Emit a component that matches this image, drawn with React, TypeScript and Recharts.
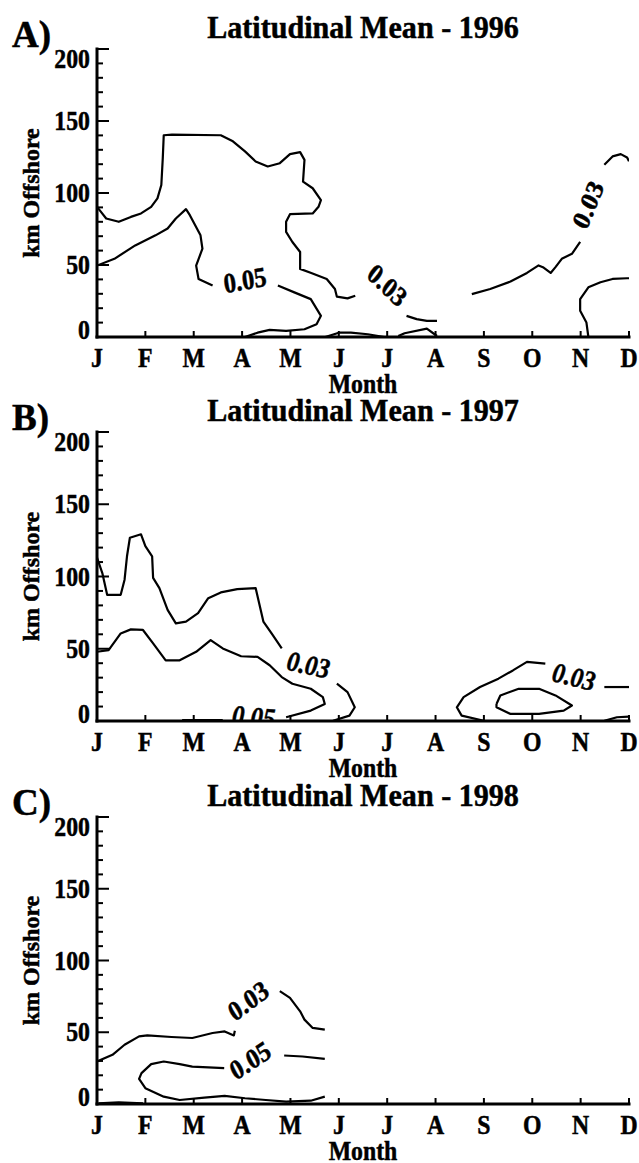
import React from 'react';
import { ComposedChart, Line, Scatter, XAxis, YAxis } from 'recharts';

// ---------- tick labels ----------
const monthLabels = ['J', 'F', 'M', 'A', 'M', 'J', 'J', 'A', 'S', 'O', 'N', 'D'];
const monthTicks = [0, 1, 2, 3, 4, 5, 6, 7, 8, 9, 10, 11];
const kmTicks = [0, 10, 20, 30, 40, 50, 60, 70, 80, 90, 100, 110, 120, 130, 140, 150, 160, 170, 180, 190, 200];

// ---------- 1996 contours [month index, km offshore] ----------
const a96_c03_west = [[0,90.4],[0.19,82.3],[0.45,80],[0.7,83.4],[0.91,85.8],[1.12,90.4],[1.25,96.3],[1.33,105.6],[1.36,124.2],[1.38,140.1],[1.55,140.6],[2.56,140.1],[2.81,135.9],[3.06,128.9],[3.28,121.9],[3.53,118.4],[3.78,120.7],[3.99,127],[4.2,128.4],[4.29,123],[4.26,107.9],[4.46,103.3],[4.63,95.1],[4.58,90.4],[4.46,85.8],[3.99,85.3],[3.91,80],[3.91,73],[4.04,66],[4.2,59],[4.2,47.3],[4.43,44.5],[4.75,40.3],[4.92,33.3],[4.96,28],[5.18,26.8],[5.34,28.7]];
const a96_c03_mid = [[6.4,14.7],[6.61,12.4],[6.82,11.2],[7.03,11.2]];
const a96_c03_east = [[7.75,29.8],[8.13,33.3],[8.55,38.5],[8.89,44.5],[9.13,49.7],[9.22,48.5],[9.38,44.5],[9.48,48.5],[9.61,54.3],[9.82,57.8],[9.99,66]];
const a96_c03_top = [[10.49,119.6],[10.66,125.4],[10.83,127],[10.96,124.7],[11,122]];
const a96_c05_west = [[0,49.6],[0.36,54.3],[0.79,63.6],[1.21,70.6],[1.46,75.3],[1.63,82.3],[1.84,88.8],[1.92,84.6],[2.14,70.6],[2.18,61.3],[2.05,49.6],[2.1,40.3],[2.39,35.7]];
const a96_c05_spring = [[3.74,35.7],[4.08,31],[4.42,26.3],[4.63,14.7],[4.54,8.9],[4.29,5.4],[3.91,4.2],[3.57,4.9],[3.32,3],[3.06,0]];
const a96_c05_jun = [[4.72,0],[5.0,3],[5.25,3],[5.6,1.9],[5.94,0]];
const a96_c05_jul = [[6.23,0.7],[6.36,2.6],[6.82,5.8],[7.03,0.7]];
const a96_c05_dec = [[10.16,0],[10.12,10],[9.99,18.2],[9.99,26.3],[10.16,34.5],[10.41,38],[10.66,40.3],[10.96,40.8],[11,40.8]];
const a96_labels = [
  { m: 3.06, km: 39.2, text: '0.05', angle: -10 },
  { m: 6.0, km: 35.7, text: '0.03', angle: 44 },
  { m: 10.16, km: 91.6, text: '0.03', angle: -68 },
];

// ---------- 1997 contours ----------
const b97_c03_west = [[0,113],[0.11,102.4],[0.21,87.3],[0.49,87.3],[0.57,97.8],[0.62,114],[0.68,126.8],[0.91,129.2],[1.0,121],[1.14,114],[1.16,99],[1.29,92],[1.46,76.9],[1.63,67.6],[1.84,68.8],[2.09,74.6],[2.3,85],[2.56,89],[2.9,91.3],[3.28,92],[3.44,68.8],[3.61,60.6],[3.82,50.2]];
const b97_c03_may = [[4.96,25.8],[5.18,20],[5.33,9.5],[5.22,3.7],[4.88,0.2]];
const b97_c05_west = [[0,47.9],[0.24,49],[0.49,60.6],[0.7,63.4],[0.95,63],[1.16,53.7],[1.42,42],[1.71,42],[2.05,47.9],[2.35,56],[2.6,50.2],[2.98,44.8],[3.32,44.4],[3.57,38.6],[3.82,30.4],[4.04,25.8],[4.42,22.3],[4.67,16.5],[4.71,11.8],[4.42,7.2],[3.91,2.6]];
const b97_c05_bottom = [[2.6,0.7],[1.76,0.7]];
const b97_c03_fall = [[8.0,0.2],[7.54,3.7],[7.44,9.5],[7.58,16.5],[7.92,23.5],[8.3,29.3],[8.6,35],[8.89,40.9],[9.27,39.7]];
const b97_c03_dec = [[10.49,23.5],[10.96,23.5],[11,23.5]];
const b97_c05_fall = [[8.26,11.8],[8.34,17.7],[8.72,22.3],[9.14,22.3],[9.48,17.7],[9.82,10.7],[9.65,7.2],[9.14,4.9],[8.55,4.9],[8.26,9.5],[8.26,11.8]];
const b97_c05_dec = [[10.49,0.2],[10.75,2.6],[11,3]];
const b97_labels = [
  { m: 4.37, km: 38.6, text: '0.03', angle: 12 },
  { m: 3.24, km: 2.6, text: '0.05', angle: 5 },
  { m: 9.86, km: 30.4, text: '0.03', angle: 14 },
];

// ---------- 1998 contours ----------
const c98_c03_west = [[0,29.6],[0.32,34.3],[0.57,41.3],[0.87,47.1],[1.04,47.8],[1.54,46.7],[1.97,46],[2.39,49.5],[2.64,50.6],[2.83,47.8],[2.85,51.1]];
const c98_c03_may = [[3.78,78.7],[3.99,74],[4.2,64.6],[4.29,58.8],[4.46,53],[4.71,51.8]];
const c98_c05_west = [[2.63,25],[1.97,26.1],[1.71,27.8],[1.38,29.6],[1.12,27.8],[0.92,21.5],[0.87,17.5],[1.0,11],[1.38,5.1],[1.71,2.8],[2.22,4.4],[2.64,5.6],[3.06,4],[3.49,2.8],[3.91,1.6],[4.42,2.3],[4.71,5.1]];
const c98_c05_may = [[3.87,33.8],[4.25,33.1],[4.71,31.5]];
const c98_bottom = [[0.03,0.5],[0.45,1.2],[0.95,0.5]];
const c98_labels = [
  { m: 3.13, km: 71.7, text: '0.03', angle: -37 },
  { m: 3.17, km: 30.1, text: '0.05', angle: -34 },
];

const FONT = '"Liberation Serif", "Times New Roman", serif';
const SX = 0.88;
const HEAVY = { stroke: '#000', strokeWidth: 0.5 };

const toPts = (arr: number[][]) => arr.map(([m, km]) => ({ m, km }));

const BottomTick = (props: any) => {
  const { x, y, payload } = props;
  return (
    <g>
      <line x1={x} y1={y} x2={x} y2={y - 6} stroke="#000" strokeWidth={2} />
      <text transform={`translate(${x},${y + 30}) scale(${SX},1)`} textAnchor="middle" fontFamily={FONT} fontWeight="bold" fontSize={27} fill="#000" {...HEAVY}>
        {monthLabels[payload.value]}
      </text>
    </g>
  );
};

const TopTick = (props: any) => {
  const { x, y } = props;
  return <line x1={x} y1={y} x2={x} y2={y + 6} stroke="#000" strokeWidth={2} />;
};

const LeftTick = (props: any) => {
  const { x, y, payload } = props;
  const v = payload.value;
  const major = v % 50 === 0;
  const len = major ? 12 : 6;
  const dy = v === 200 ? 10 : v === 0 ? -7 : 0;
  return (
    <g>
      <line x1={x} y1={y} x2={x + len} y2={y} stroke="#000" strokeWidth={2} />
      {major && (
        <text transform={`translate(${x - 7},${y + 9 + dy}) scale(${SX},1)`} textAnchor="end" fontFamily={FONT} fontWeight="bold" fontSize={27} fill="#000" {...HEAVY}>
          {v}
        </text>
      )}
    </g>
  );
};

const RightTick = (props: any) => {
  const { x, y, payload } = props;
  const len = payload.value % 50 === 0 ? 12 : 6;
  return <line x1={x} y1={y} x2={x - len} y2={y} stroke="#000" strokeWidth={2} />;
};

const makeLabelShape = (italic: boolean) => (props: any) => {
  const { cx, cy, payload } = props;
  const th = (Math.atan(SX * Math.tan((payload.angle * Math.PI) / 180)) * 180) / Math.PI;
  return (
    <text
      transform={`translate(${cx},${cy}) scale(${SX},1) rotate(${th})`}
      textAnchor="middle"
      dominantBaseline="central"
      fontFamily={FONT}
      fontWeight="bold"
      fontStyle={italic ? 'italic' : 'normal'}
      fontSize={28}
      fill="#000"
      {...HEAVY}
    >
      {payload.text}
    </text>
  );
};

const panels = [
  {
    letter: 'A)', title: 'Latitudinal Mean - 1996', plotTop: 49, plotH: 288, italic: false,
    lines: [a96_c03_west, a96_c03_mid, a96_c03_east, a96_c03_top, a96_c05_west, a96_c05_spring, a96_c05_jun, a96_c05_jul, a96_c05_dec],
    labels: a96_labels,
  },
  {
    letter: 'B)', title: 'Latitudinal Mean - 1997', plotTop: 432, plotH: 289, italic: true,
    lines: [b97_c03_west, b97_c03_may, b97_c05_west, b97_c05_bottom, b97_c03_fall, b97_c03_dec, b97_c05_fall, b97_c05_dec],
    labels: b97_labels,
  },
  {
    letter: 'C)', title: 'Latitudinal Mean - 1998', plotTop: 817, plotH: 287, italic: false,
    lines: [c98_c03_west, c98_c03_may, c98_c05_west, c98_c05_may, c98_bottom],
    labels: c98_labels,
  },
];

const TOP = 49;
const BOTTOM_SPACE = 62;
const LEFT = 97;
const RIGHT = 10;
const W = 639;

const axisLine = { stroke: '#000', strokeWidth: 3, strokeLinecap: 'square' as const };

const Panel = ({ p }: { p: (typeof panels)[number] }) => {
  const H = TOP + p.plotH + BOTTOM_SPACE;
  const top = p.plotTop - TOP;
  const LabelShape = makeLabelShape(p.italic);
  return (
    <div style={{ position: 'absolute', left: 0, top, width: W, height: H }}>
      <ComposedChart width={W} height={H} margin={{ top: TOP, right: RIGHT, bottom: 0, left: 0 }}>
        <XAxis xAxisId="b" type="number" dataKey="m" domain={[0, 11]} ticks={monthTicks} interval={0} orientation="bottom" height={BOTTOM_SPACE} tickSize={0} tickMargin={0} tickLine={false} tick={<BottomTick />} axisLine={axisLine} allowDataOverflow />
        <XAxis xAxisId="t" type="number" dataKey="m" domain={[0, 11]} ticks={monthTicks} interval={0} orientation="top" height={0} tickSize={0} tickMargin={0} tickLine={false} tick={<TopTick />} axisLine={axisLine} allowDataOverflow />
        <YAxis yAxisId="l" type="number" dataKey="km" domain={[0, 200]} ticks={kmTicks} interval={0} orientation="left" width={LEFT} tickSize={0} tickMargin={0} tickLine={false} tick={<LeftTick />} axisLine={axisLine} allowDataOverflow />
        <YAxis yAxisId="r" type="number" dataKey="km" domain={[0, 200]} ticks={kmTicks} interval={0} orientation="right" width={0} tickSize={0} tickMargin={0} tickLine={false} tick={<RightTick />} axisLine={axisLine} allowDataOverflow />
        {p.lines.map((arr, i) => (
          <Line key={i} xAxisId="b" yAxisId="l" data={toPts(arr)} dataKey="km" type="linear" stroke="#000" strokeWidth={2.2} strokeLinejoin="round" dot={false} activeDot={false} isAnimationActive={false} />
        ))}
        <Scatter xAxisId="b" yAxisId="l" data={p.labels} dataKey="km" shape={LabelShape} isAnimationActive={false} />
      </ComposedChart>
      <svg width={W} height={H} style={{ position: 'absolute', left: 0, top: 0, pointerEvents: 'none', overflow: 'visible' }}>
        <text x={12} y={TOP - 2} fontFamily={FONT} fontWeight="bold" fontSize={37} fill="#000" {...HEAVY}>{p.letter}</text>
        <text transform={`translate(${(LEFT + W - RIGHT) / 2},${TOP - 11}) scale(0.94,1)`} textAnchor="middle" fontFamily={FONT} fontWeight="bold" fontSize={32} fill="#000" {...HEAVY}>{p.title}</text>
        <text transform={`translate(39,${TOP + p.plotH / 2}) rotate(-90)`} textAnchor="middle" fontFamily={FONT} fontWeight="bold" fontSize={24} fill="#000" {...HEAVY}>km Offshore</text>
        <text transform={`translate(${(LEFT + W - RIGHT) / 2},${TOP + p.plotH + 56}) scale(${SX},1)`} textAnchor="middle" fontFamily={FONT} fontWeight="bold" fontSize={27} fill="#000" {...HEAVY}>Month</text>
      </svg>
    </div>
  );
};

export default function App() {
  return (
    <div style={{ position: 'absolute', left: 0, top: 0, width: W, height: 1163, overflow: 'hidden', background: '#fff' }}>
      {panels.map((p) => (
        <Panel key={p.letter} p={p} />
      ))}
    </div>
  );
}
